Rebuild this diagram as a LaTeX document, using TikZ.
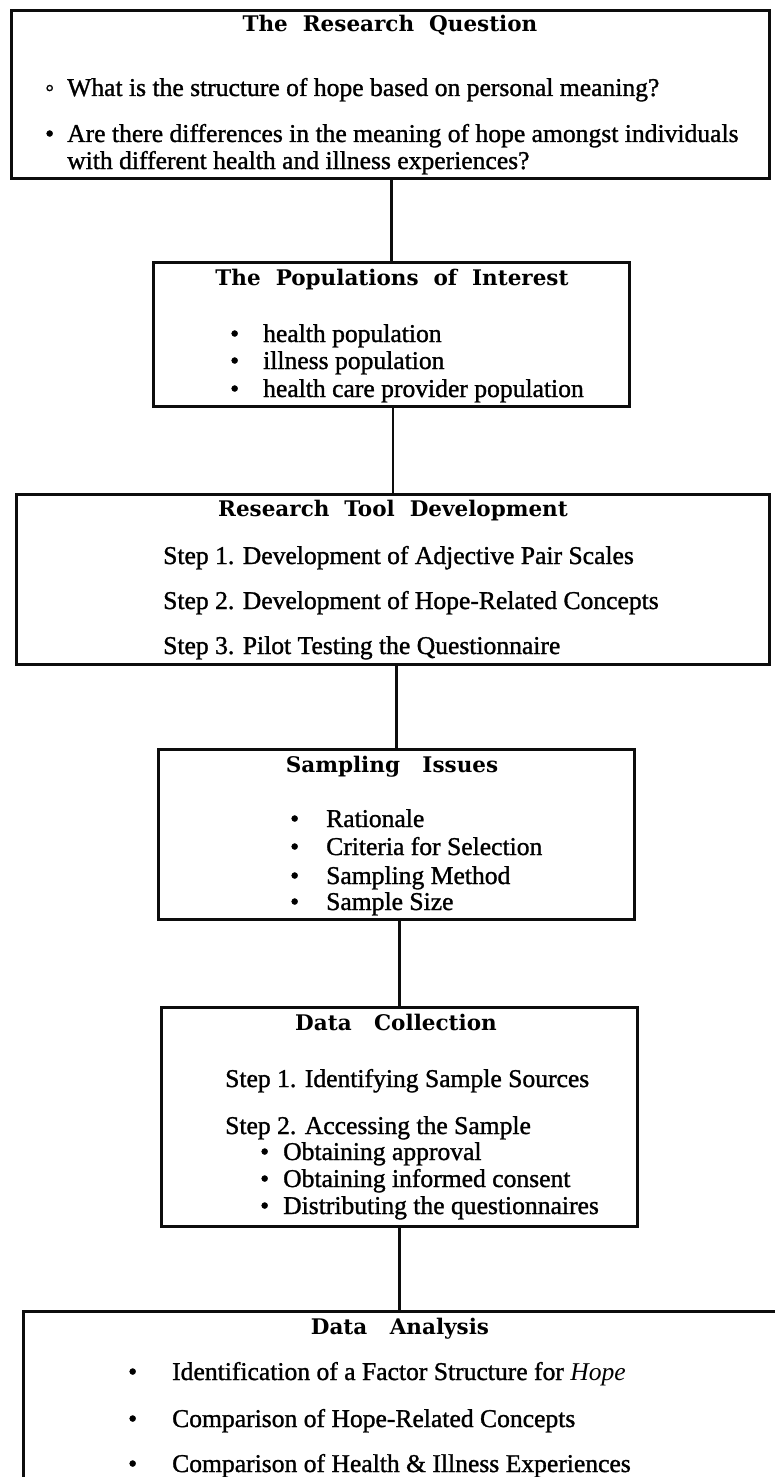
\documentclass[tikz,border=0pt]{standalone}
\usepackage{fontspec}
\newfontfamily\bodyfont{Liberation Serif}[BoldFont=Liberation Serif, BoldFeatures={FakeBold=1.2}]
\newfontfamily\titlefont{DejaVu Serif}

\begin{document}
\begin{tikzpicture}[x=1pt, y=-1pt,
  frame/.style={draw=black!95, line width=2.6pt, anchor=north west, inner sep=0pt},
  head/.style={font=\titlefont\bfseries\fontsize{21.5}{24}\selectfont, anchor=base, inner sep=0pt},
  item/.style={font=\bodyfont\bfseries\fontsize{25.6}{30}\selectfont, anchor=base west, inner sep=0pt},
  link/.style={black!95, line width=2.6pt}]
\useasboundingbox (0,0) rectangle (775,1477);
\clip (0,0) rectangle (775,1477);

% research question
\node [frame, minimum width=758pt, minimum height=168pt] (rq) at (10,9) {};
\node [head] (rq-head) at (390,32) {The~~Research~~Question};
\node [item] (rq-1) at (45,96)  {\makebox[22pt][l]{◦}What is the structure of hope based on personal meaning?};
\node [item] (rq-2) at (45,142) {\makebox[22pt][l]{\textbullet}Are there differences in the meaning of hope amongst individuals};
\node [item] (rq-3) at (67,169) {with different health and illness experiences?};

% populations
\node [frame, minimum width=476pt, minimum height=144pt] (pop) at (152,261) {};
\node [head] (pop-head) at (392,285) {The~~Populations~~of~~Interest};
\node [item] (pop-1) at (230,342) {\makebox[33pt][l]{\textbullet}health population};
\node [item] (pop-2) at (230,369) {\makebox[33pt][l]{\textbullet}illness population};
\node [item] (pop-3) at (230,397) {\makebox[33pt][l]{\textbullet}health care provider population};

% research tool
\node [frame, minimum width=753pt, minimum height=170pt] (tool) at (15,493) {};
\node [head] (tool-head) at (393,516) {Research~~Tool~~Development};
\node [item] (tool-1) at (163,564) {Step 1. Development of Adjective Pair Scales};
\node [item] (tool-2) at (163,609) {Step 2. Development of Hope-Related Concepts};
\node [item] (tool-3) at (163,654) {Step 3. Pilot Testing the Questionnaire};

% sampling
\node [frame, minimum width=476pt, minimum height=170pt] (samp) at (157,748) {};
\node [head] (samp-head) at (392,772) {Sampling~~~Issues};
\node [item] (samp-1) at (290,827) {\makebox[36pt][l]{\textbullet}Rationale};
\node [item] (samp-2) at (290,855) {\makebox[36pt][l]{\textbullet}Criteria for Selection};
\node [item] (samp-3) at (290,884) {\makebox[36pt][l]{\textbullet}Sampling Method};
\node [item] (samp-4) at (290,910) {\makebox[36pt][l]{\textbullet}Sample Size};

% data collection
\node [frame, minimum width=476pt, minimum height=219pt] (coll) at (160,1006) {};
\node [head] (coll-head) at (396,1030) {Data~~~Collection};
\node [item] (coll-1) at (225,1087) {Step 1. Identifying Sample Sources};
\node [item] (coll-2) at (225,1134) {Step 2. Accessing the Sample};
\node [item] (coll-3) at (260,1160) {\makebox[23pt][l]{\textbullet}Obtaining approval};
\node [item] (coll-4) at (260,1187) {\makebox[23pt][l]{\textbullet}Obtaining informed consent};
\node [item] (coll-5) at (260,1214) {\makebox[23pt][l]{\textbullet}Distributing the questionnaires};

% data analysis
\node [frame, minimum width=800pt, minimum height=220pt] (anal) at (22,1310) {};
\node [head] (anal-head) at (400,1334) {Data~~~Analysis};
\node [item] (anal-1) at (128,1380) {\makebox[44pt][l]{\textbullet}Identification of a Factor Structure for \textit{Hope}};
\node [item] (anal-2) at (128,1427) {\makebox[44pt][l]{\textbullet}Comparison of Hope-Related Concepts};
\node [item] (anal-3) at (128,1472) {\makebox[44pt][l]{\textbullet}Comparison of Health \& Illness Experiences};

% straight links down the middle
\draw [link] (rq.south -| pop.north) -- (pop.north);
\draw [link] (pop.south -| tool.north) -- (tool.north);
\draw [link] (tool.south -| samp.north) -- (samp.north);
\draw [link] (samp.south -| coll.north) -- (coll.north);
\draw [link] (coll.south) -- (anal.north -| coll.south);
\end{tikzpicture}
\end{document}
